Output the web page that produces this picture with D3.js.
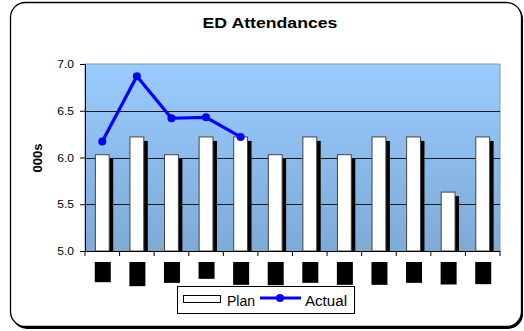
<!DOCTYPE html>
<html>
<head>
<meta charset="utf-8">
<script src="https://cdn.jsdelivr.net/npm/d3@7"></script>
<style>
  html, body { margin: 0; padding: 0; background: #fff; }
  svg { display: block; font-family: "Liberation Sans", Arial, sans-serif; }
</style>
</head>
<body>
<svg id="chart" width="524" height="331"></svg>
<script>
// Monthly ED attendances (thousands), April to March
const categories = ["Apr", "May", "Jun", "Jul", "Aug", "Sep", "Oct", "Nov", "Dec", "Jan", "Feb", "Mar"];
const planValues = [6.03, 6.22, 6.03, 6.22, 6.22, 6.03, 6.22, 6.03, 6.22, 6.22, 5.63, 6.22];
const actualValues = [6.17, 6.87, 6.42, 6.43, 6.22];
const yTicks = [5.0, 5.5, 6.0, 6.5, 7.0];
const yDomain = [5.0, 7.0];
const titleText = "ED Attendances";
const yAxisTitle = "000s";
const seriesNames = ["Plan", "Actual"];

const svg = d3.select("#chart");
const margin = { left: 85, right: 500, top: 64, bottom: 251 };

// Chart frame with drop shadow
svg.append("rect").attr("x", 12).attr("y", 4).attr("width", 511).attr("height", 325)
  .attr("rx", 15).attr("fill", "#000");
svg.append("rect").attr("x", 10.5).attr("y", 2.5).attr("width", 511).attr("height", 324)
  .attr("rx", 15).attr("fill", "#fff").attr("stroke", "#000").attr("stroke-width", 1.3);

const x = d3.scaleBand().domain(categories).range([margin.left, margin.right])
  .paddingInner(0.6).paddingOuter(0.3);
const y = d3.scaleLinear().domain(yDomain).range([margin.bottom, margin.top]);

// Plot-area gradient
const defs = svg.append("defs");
const grad = defs.append("linearGradient").attr("id", "plotBg")
  .attr("x1", 0).attr("y1", 0).attr("x2", 0).attr("y2", 1);
grad.append("stop").attr("offset", "0%").attr("stop-color", "#99CCFF");
grad.append("stop").attr("offset", "100%").attr("stop-color", "#7EAAD6");

svg.append("rect")
  .attr("x", margin.left).attr("y", margin.top)
  .attr("width", margin.right - margin.left).attr("height", margin.bottom - margin.top)
  .attr("fill", "url(#plotBg)").attr("stroke", "#8a99a8").attr("stroke-width", 1);

// Gridlines
svg.append("g").selectAll("line").data(yTicks.slice(1, -1)).join("line")
  .attr("x1", margin.left).attr("x2", margin.right)
  .attr("y1", d => Math.round(y(d)) + 0.5).attr("y2", d => Math.round(y(d)) + 0.5)
  .attr("stroke", "#1a1a1a").attr("stroke-width", 1);

// Plan bars with shadow
const barG = svg.append("g");
const bars = categories.map((c, i) => ({ c, v: planValues[i] }));
barG.selectAll("rect.shadow").data(bars).join("rect").attr("class", "shadow")
  .attr("x", d => x(d.c) + 4).attr("y", d => y(d.v) + 4)
  .attr("width", x.bandwidth()).attr("height", d => y(yDomain[0]) - y(d.v) - 4)
  .attr("fill", "#000");
barG.selectAll("rect.bar").data(bars).join("rect").attr("class", "bar")
  .attr("x", d => x(d.c)).attr("y", d => y(d.v))
  .attr("width", x.bandwidth()).attr("height", d => y(yDomain[0]) - y(d.v))
  .attr("fill", "#fff").attr("stroke", "#444").attr("stroke-width", 1);

// Axes
const yAxis = svg.append("g").attr("transform", `translate(${margin.left},0)`)
  .call(d3.axisLeft(y).tickValues(yTicks).tickFormat(d3.format(".1f")).tickSizeOuter(0).tickSize(5));
yAxis.select(".domain").attr("stroke", "#000");
yAxis.selectAll(".tick line").attr("stroke", "#000");
yAxis.selectAll(".tick text")
  .attr("fill", "#000").attr("font-size", 10.5).attr("x", 0).attr("dy", "0.35em")
  .attr("text-anchor", "end")
  .attr("transform", "translate(-11,0) scale(1.15,1)");

const xAxisLine = svg.append("g");
xAxisLine.append("line").attr("x1", margin.left).attr("x2", margin.right)
  .attr("y1", margin.bottom + 0.5).attr("y2", margin.bottom + 0.5).attr("stroke", "#000");
const step = x.step();
const boundaries = d3.range(categories.length + 1).map(i => margin.left + i * step);
xAxisLine.selectAll("line.tk").data(boundaries).join("line").attr("class", "tk")
  .attr("x1", d => d).attr("x2", d => d)
  .attr("y1", margin.bottom).attr("y2", margin.bottom + 5).attr("stroke", "#000");

// Category labels (vertical, on black tabs)
const labG = svg.append("g");
categories.forEach(c => {
  const cx = x(c) + x.bandwidth() / 2;
  const g = labG.append("g").attr("transform", `translate(${cx + 0.5},262)`);
  const t = g.append("text").text(c).attr("font-size", 12)
    .attr("transform", "rotate(-90)")
    .attr("dy", "0.35em").attr("fill", "#000");
  const bb = t.node().getBBox();
  g.insert("rect", "text")
    .attr("x", -8).attr("y", 0).attr("width", 16).attr("height", bb.width + 1.5)
    .attr("fill", "#000");
  t.attr("x", -(bb.width + 0.75));
});

// Actual line
const line = d3.line().x((d, i) => x(categories[i]) + x.bandwidth() / 2).y(d => y(d));
svg.append("path").datum(actualValues).attr("d", line)
  .attr("fill", "none").attr("stroke", "#0000FF").attr("stroke-width", 3.2)
  .attr("stroke-linejoin", "round");
svg.append("g").selectAll("circle").data(actualValues).join("circle")
  .attr("cx", (d, i) => x(categories[i]) + x.bandwidth() / 2).attr("cy", d => y(d))
  .attr("r", 4).attr("fill", "#0000FF");

// Title
svg.append("text").text(titleText)
  .attr("transform", "translate(270,28) scale(1.22,1)")
  .attr("text-anchor", "middle").attr("font-size", 14.5).attr("font-weight", "bold").attr("fill", "#000");

// Y axis title
svg.append("text").text(yAxisTitle)
  .attr("transform", "translate(42,158) rotate(-90)")
  .attr("text-anchor", "middle").attr("font-size", 13).attr("font-weight", "bold").attr("fill", "#000");

// Legend
const lg = svg.append("g");
lg.append("rect").attr("x", 177.5).attr("y", 286.5).attr("width", 177).attr("height", 27)
  .attr("fill", "#fff").attr("stroke", "#000").attr("stroke-width", 1);
lg.append("rect").attr("x", 183.5).attr("y", 295.5).attr("width", 37).attr("height", 7)
  .attr("fill", "#fff").attr("stroke", "#000").attr("stroke-width", 1);
lg.append("text").text(seriesNames[0]).attr("x", 227).attr("y", 306)
  .attr("font-size", 14).attr("fill", "#000");
lg.append("line").attr("x1", 260).attr("x2", 301).attr("y1", 298).attr("y2", 298)
  .attr("stroke", "#0000FF").attr("stroke-width", 3.2);
lg.append("circle").attr("cx", 280).attr("cy", 298).attr("r", 4).attr("fill", "#0000FF");
lg.append("text").text(seriesNames[1]).attr("x", 305).attr("y", 306)
  .attr("font-size", 14).attr("fill", "#000")
  .attr("transform", "translate(305,0) scale(1.08,1) translate(-305,0)");
</script>
</body>
</html>
